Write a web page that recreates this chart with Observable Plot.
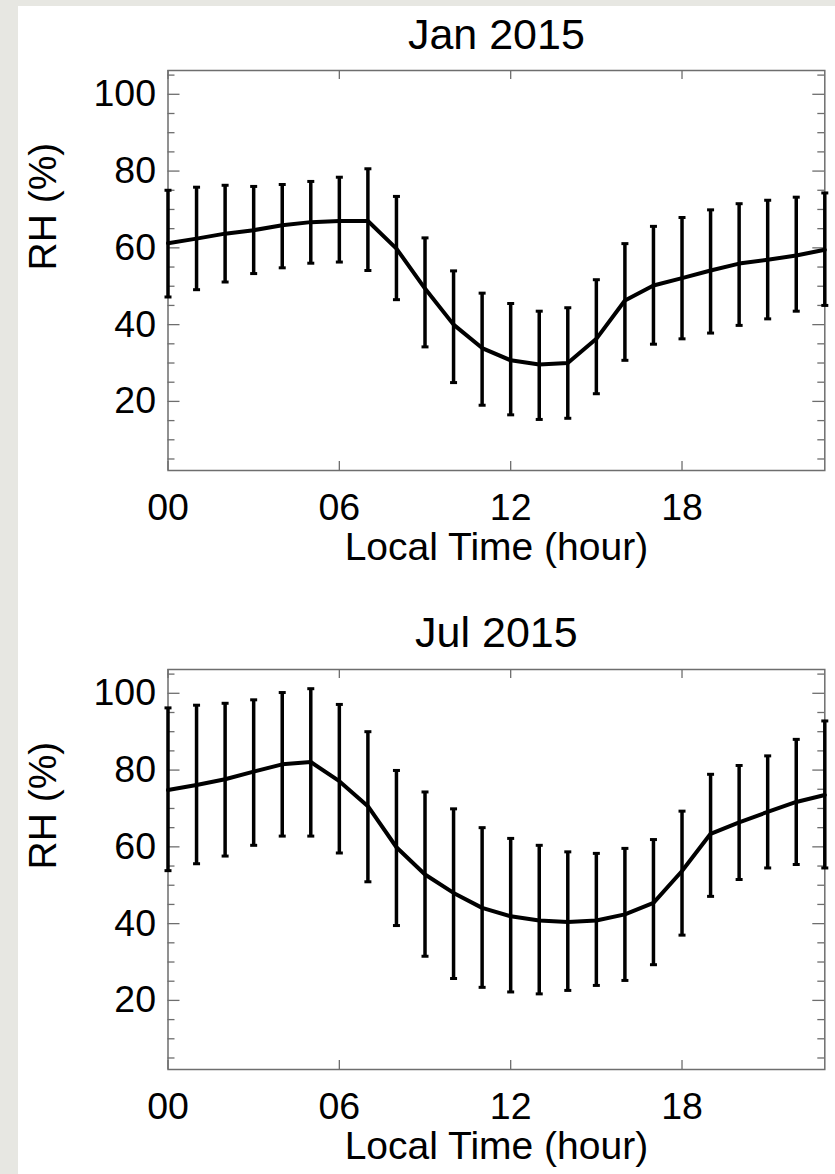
<!DOCTYPE html>
<html><head><meta charset="utf-8">
<script src="https://cdn.jsdelivr.net/npm/d3@7"></script>
<script src="https://cdn.jsdelivr.net/npm/@observablehq/plot@0.6"></script>
<style>
html,body{margin:0;padding:0;}
body{width:835px;height:1174px;background:#e7e7e2;position:relative;overflow:hidden;font-family:"Liberation Sans",Arial,Helvetica,sans-serif;}
#sheet{position:absolute;left:18px;top:6px;right:0;bottom:0;background:#fff;}
.panel{position:absolute;left:0;width:835px;}
</style></head><body>
<div id="sheet"></div>
<div id="p1" class="panel" style="top:0px"></div>
<div id="p2" class="panel" style="top:600px"></div>
<script>
// ---- data ----
const hours = [0,1,2,3,4,5,6,7,8,9,10,11,12,13,14,15,16,17,18,19,20,21,22,23];
const xTickValues = [0, 6, 12, 18];
const yMajorTicks = [20, 40, 60, 80, 100];
const yMinorTicks = [5, 10, 15, 25, 30, 35, 45, 50, 55, 65, 70, 75, 85, 90, 95, 105];
const panelTitles = ["Jan 2015", "Jul 2015"];
const xLabel = "Local Time (hour)";
const yLabel = "RH (%)";

const janMean  = [61.2, 62.4, 63.7, 64.6, 65.9, 66.7, 67.0, 67.0, 59.8, 49.4, 40.0, 33.9, 30.7, 29.6, 30.0, 36.3, 46.3, 50.2, 52.1, 54.1, 55.9, 56.9, 58.0, 59.5];
const janUpper = [75.0, 75.8, 76.3, 76.0, 76.5, 77.3, 78.4, 80.6, 73.4, 62.6, 54.0, 48.2, 45.5, 43.5, 44.4, 51.7, 61.1, 65.6, 67.9, 69.9, 71.5, 72.4, 73.2, 74.3];
const janLower = [47.2, 49.1, 51.1, 53.3, 54.8, 56.0, 56.3, 54.1, 46.5, 34.2, 24.9, 19.0, 16.5, 15.3, 15.6, 22.0, 30.7, 34.9, 36.3, 37.8, 39.8, 41.5, 43.5, 45.0];

const julMean  = [74.8, 76.1, 77.6, 79.6, 81.5, 82.1, 77.1, 70.6, 59.9, 52.8, 48.0, 44.1, 41.9, 40.8, 40.4, 40.8, 42.4, 45.4, 53.7, 63.4, 66.4, 69.1, 71.7, 73.5];
const julUpper = [96.2, 96.9, 97.4, 98.3, 100.2, 101.2, 97.1, 90.0, 79.9, 74.3, 69.9, 65.0, 62.2, 60.4, 58.7, 58.3, 59.6, 61.9, 69.3, 78.9, 81.2, 83.7, 88.0, 92.8];
const julLower = [53.8, 55.6, 57.6, 60.4, 62.8, 62.8, 58.4, 50.9, 39.5, 31.5, 25.7, 23.4, 22.2, 21.7, 22.6, 23.9, 25.2, 29.3, 37.0, 47.1, 51.5, 54.5, 55.4, 54.5];

const xDomain = [0, 23];
const yDomain = [2, 106.2];

// ---- drawing ----
const W = 835, ML = 167.5, MR = 10.7;
const PW = W - ML - MR;
const PH = 400;
const axisGray = "#6e6e6e";
const FONT = "'Liberation Sans', Arial, Helvetica, sans-serif";

const capSymbol = {
  draw(ctx, size) { const r = Math.sqrt(size / Math.PI); ctx.moveTo(-r, 0); ctx.lineTo(r, 0); }
};

function panel(el, title, mean, upper, lower, {marginTop, marginBottom, titleDy}) {
  const rows = hours.map((h, i) => ({hour: h, mean: mean[i], upper: upper[i], lower: lower[i]}));
  const chart = Plot.plot({
    width: W,
    height: marginTop + PH + marginBottom,
    marginLeft: ML, marginRight: MR, marginTop, marginBottom,
    style: {fontFamily: FONT, fontSize: "37.5px", background: "transparent", color: "black", overflow: "visible"},
    x: {domain: xDomain, axis: null},
    y: {domain: yDomain, axis: null},
    marks: [
      // ticks (inward, both sides)
      Plot.tickY(yMajorTicks, {y: d => d, insetRight: PW - 12, stroke: axisGray, strokeWidth: 1.3}),
      Plot.tickY(yMinorTicks, {y: d => d, insetRight: PW - 7, stroke: axisGray, strokeWidth: 1.3}),
      Plot.tickY(yMajorTicks, {y: d => d, insetLeft: PW - 12, stroke: axisGray, strokeWidth: 1.3}),
      Plot.tickY(yMinorTicks, {y: d => d, insetLeft: PW - 7, stroke: axisGray, strokeWidth: 1.3}),
      Plot.tickX(xTickValues, {x: d => d, insetTop: PH - 9, stroke: axisGray, strokeWidth: 1.3}),
      Plot.tickX(xTickValues, {x: d => d, insetBottom: PH - 9, stroke: axisGray, strokeWidth: 1.3}),
      Plot.frame({stroke: axisGray, strokeWidth: 1.5}),
      Plot.axisX({ticks: xTickValues, tickSize: 0, tickPadding: 23, tickFormat: d3.format("02d"), label: null}),
      Plot.axisY({ticks: yMajorTicks, tickSize: 0, tickPadding: 12, label: null}),
      // error bars
      Plot.ruleX(rows, {x: "hour", y1: "lower", y2: "upper", stroke: "black", strokeWidth: 3.5}),
      Plot.dot(rows, {x: "hour", y: "upper", symbol: capSymbol, r: 3.5, fill: "none", stroke: "black", strokeWidth: 3}),
      Plot.dot(rows, {x: "hour", y: "lower", symbol: capSymbol, r: 3.5, fill: "none", stroke: "black", strokeWidth: 3}),
      // mean line
      Plot.line(rows, {x: "hour", y: "mean", stroke: "black", strokeWidth: 4, strokeLinejoin: "round"}),
      // labels
      Plot.text([title], {text: d => d, frameAnchor: "top", dy: titleDy, fontSize: 43, lineAnchor: "middle"}),
      Plot.text([xLabel], {text: d => d, frameAnchor: "bottom", dy: 77, fontSize: 39, lineAnchor: "middle"}),
      Plot.text([yLabel], {text: d => d, frameAnchor: "left", dx: 43 - ML, rotate: -90, fontSize: 39, lineAnchor: "middle"})
    ]
  });
  document.getElementById(el).appendChild(chart);
}

panel("p1", panelTitles[0], janMean, janUpper, janLower, {marginTop: 70, marginBottom: 130, titleDy: -35});
panel("p2", panelTitles[1], julMean, julUpper, julLower, {marginTop: 69, marginBottom: 105, titleDy: -36});
</script>
</body></html>
